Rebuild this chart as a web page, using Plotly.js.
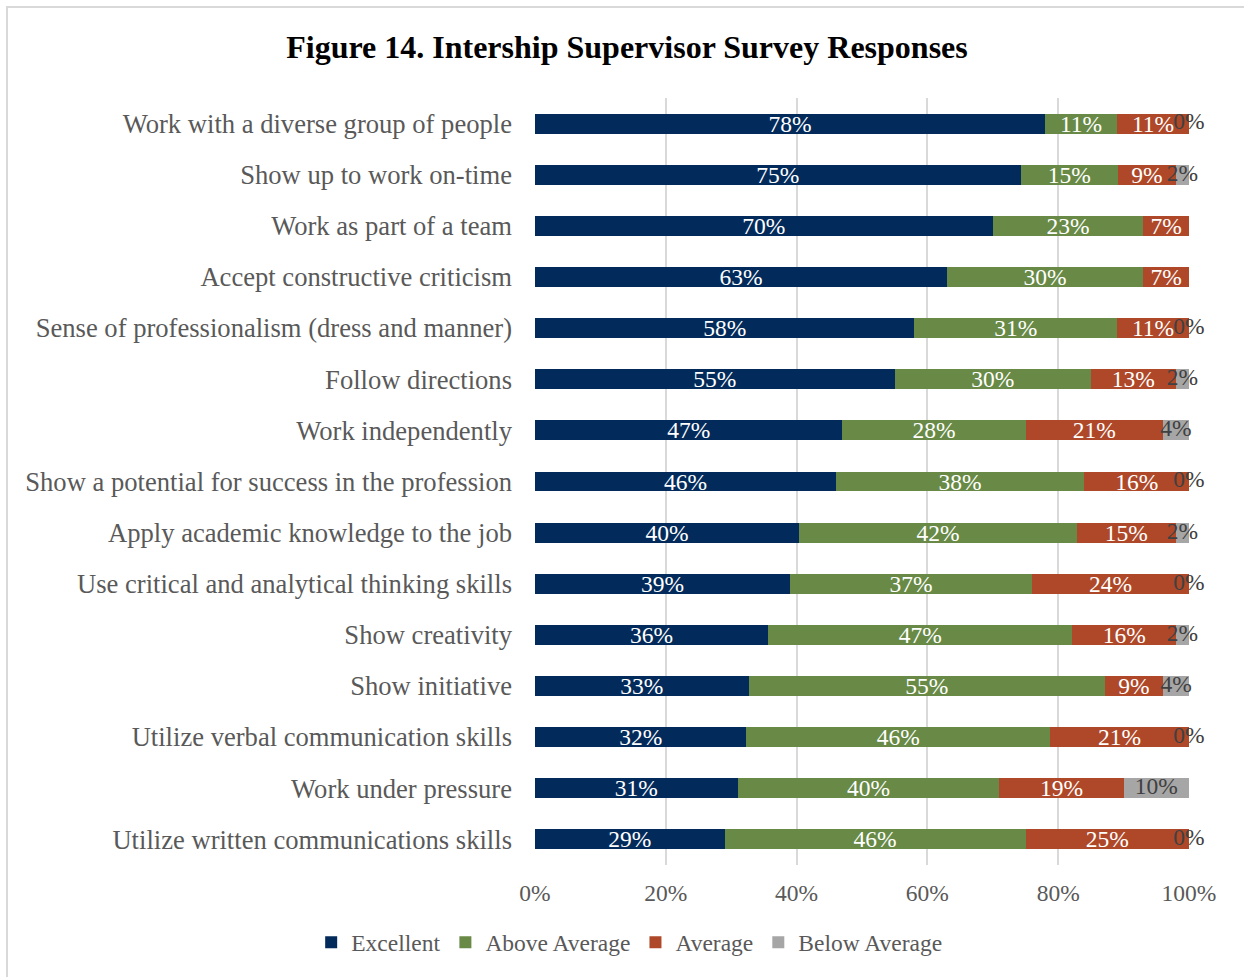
<!DOCTYPE html>
<html>
<head>
<meta charset="utf-8">
<script src="https://cdn.plot.ly/plotly-3.0.1.min.js"></script>
<style>
  html, body { margin: 0; padding: 0; background: #ffffff; overflow: hidden; }
  #chart { position: absolute; left: 0; top: 0; width: 1244px; height: 977px; }
  #frame { position: absolute; left: 6px; top: 6px; width: 1300px; height: 1100px;
           border: 2px solid #d9d9d9; pointer-events: none; box-sizing: border-box; }
</style>
</head>
<body>
<div id="chart"></div>
<div id="frame"></div>
<script>
var categories = [
  "Work with a diverse group of people",
  "Show up to work on-time",
  "Work as part of a team",
  "Accept constructive criticism",
  "Sense of professionalism (dress and manner)",
  "Follow directions",
  "Work independently",
  "Show a potential for success in the profession",
  "Apply academic knowledge to the job",
  "Use critical and analytical thinking skills",
  "Show creativity",
  "Show initiative",
  "Utilize verbal communication skills",
  "Work under pressure",
  "Utilize written communications skills"
];
var excellent     = [78, 75, 70, 63, 58, 55, 47, 46, 40, 39, 36, 33, 32, 31, 29];
var aboveAverage  = [11, 15, 23, 30, 31, 30, 28, 38, 42, 37, 47, 55, 46, 40, 46];
var average       = [11,  9,  7,  7, 11, 13, 21, 16, 15, 24, 16,  9, 21, 19, 25];
var belowAverage  = [ 0,  2, null, null, 0, 2, 4, 0, 2, 0, 2, 4, 0, 10, 0];

var seriesNames  = ["Excellent", "Above Average", "Average", "Below Average"];
var seriesColors = ["#022b5b", "#688a46", "#ae4828", "#a6a6a6"];

var FONT = "Liberation Serif, Times New Roman, serif";
function labels(arr) { return arr.map(function (v) { return v === null ? "" : v + "%"; }); }

var seriesData = [excellent, aboveAverage, average, belowAverage];
var traces = seriesData.map(function (vals, k) {
  return {
    type: "bar",
    orientation: "h",
    name: seriesNames[k],
    y: categories,
    x: vals,
    marker: { color: seriesColors[k], line: { width: 0 } },
    text: labels(vals),
    texttemplate: "%{text}",
    textposition: k === 3 ? "none" : "inside",
    insidetextanchor: "middle",
    constraintext: "none",
    insidetextfont: { family: FONT, size: 23.5, color: "#ffffff" },
    hoverinfo: "skip"
  };
});

// Labels of the "Below Average" segments, centred on each (normalised) segment
var belowCenters = categories.map(function (c, i) {
  var b = belowAverage[i] === null ? 0 : belowAverage[i];
  var total = excellent[i] + aboveAverage[i] + average[i] + b;
  return 100 * (excellent[i] + aboveAverage[i] + average[i] + b / 2) / total;
});
traces.push({
  type: "scatter",
  mode: "text",
  y: categories,
  x: belowCenters,
  text: labels(belowAverage),
  textposition: "middle center",
  textfont: { family: FONT, size: 23.5, color: "#404040" },
  cliponaxis: false,
  showlegend: false,
  hoverinfo: "skip"
});

var layout = {
  width: 1244,
  height: 977,
  margin: { l: 535, r: 55, t: 98, b: 110 },
  paper_bgcolor: "#ffffff",
  plot_bgcolor: "#ffffff",
  barmode: "stack",
  barnorm: "percent",
  bargap: 0.61,
  title: {
    text: "<b>Figure 14. Intership Supervisor Survey Responses</b>",
    font: { family: FONT, size: 32, color: "#000000" },
    xref: "container", x: 0.504, xanchor: "center",
    yref: "container", y: 0.952, yanchor: "middle"
  },
  xaxis: {
    range: [0, 100.001],
    dtick: 20,
    tick0: 0,
    ticksuffix: "%",
    showgrid: true,
    gridcolor: "#d9d9d9",
    gridwidth: 2,
    zeroline: false,
    showline: false,
    ticks: "",
    ticklabelstandoff: 11,
    tickfont: { family: FONT, size: 23.5, color: "#595959" },
    fixedrange: true
  },
  yaxis: {
    type: "category",
    range: [categories.length - 0.5, -0.5],
    autorange: false,
    showgrid: false,
    zeroline: false,
    showline: false,
    ticks: "",
    ticklabelstandoff: 22,
    tickfont: { family: FONT, size: 26.6, color: "#595959" },
    fixedrange: true
  },
  showlegend: true,
  legend: {
    orientation: "h",
    x: 0.144, xanchor: "center", xref: "paper",
    y: -0.101, yanchor: "middle",
    font: { family: FONT, size: 23.5, color: "#595959" },
    traceorder: "normal",
    itemclick: false, itemdoubleclick: false
  }
};

Plotly.newPlot("chart", traces, layout, { displayModeBar: false, staticPlot: true });
</script>
</body>
</html>
